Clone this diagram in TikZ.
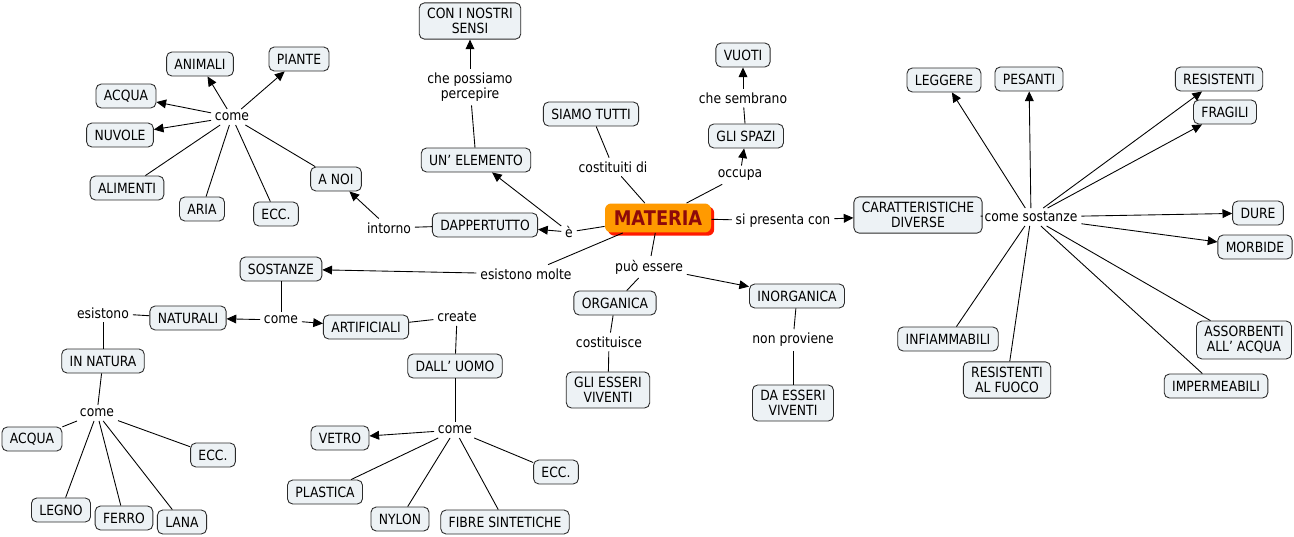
\documentclass[tikz,border=0pt]{standalone}
\usepackage{fontspec}
\setmainfont{DejaVu Sans}[FakeStretch=0.88]
\usetikzlibrary{arrows.meta,shadows}
\definecolor{ink}{HTML}{2B2B2B}
\definecolor{boxfill}{HTML}{EDF2F5}
\definecolor{hubfill}{HTML}{FF9A00}
\definecolor{hubtext}{HTML}{8E0A0A}
\definecolor{hubshade}{HTML}{FF1A00}

\begin{document}
\begin{tikzpicture}[
    x=0.02cm, y=-0.02cm,
    font=\fontsize{8}{8.6}\selectfont,
    line width=0.5pt,
    concept/.style={draw=ink, fill=boxfill, rounded corners=3pt, align=center,
        inner xsep=4.5pt, inner ysep=3pt, minimum height=0.48cm},
    phrase/.style={inner sep=2pt, align=center},
    hub/.style={fill=hubfill, rounded corners=3.5pt, text=hubtext,
        font=\fontsize{11.5}{14}\bfseries, inner xsep=5pt, minimum height=0.58cm,
        drop shadow={fill=hubshade, opacity=1, shadow xshift=1.8pt, shadow yshift=-1.8pt}},
    pointer/.style={-{Triangle[length=5.5pt,width=5pt]}}
]
\useasboundingbox (0,0) rectangle (1294,537);

\node[hub] (materia) at (658,218) {MATERIA};

% Upper middle: what matter is made of and occupies.
\node[concept] (siamo) at (591,114) {SIAMO TUTTI};
\node[concept] (spazi) at (746,136) {GLI SPAZI};
\node[concept] (vuoti) at (743,55) {VUOTI};
\node[phrase] (pCostituiti) at (613,167) {costituiti di};
\node[phrase] (pOccupa) at (740,175) {occupa};
\node[phrase] (pSembrano) at (743,98) {che sembrano};
\draw (siamo) -- (pCostituiti);
\draw (pCostituiti) -- (materia);
\draw (materia) -- (pOccupa);
\draw[pointer] (pOccupa) -- (spazi);
\draw (spazi) -- (pSembrano);
\draw[pointer] (pSembrano) -- (vuoti);

% Left of the centre: an element, everywhere, around us.
\node[concept] (elem) at (476,160) {UN' ELEMENTO};
\node[concept] (sensi) at (470,21) {CON I NOSTRI\\SENSI};
\node[concept] (dapp) at (485,225) {DAPPERTUTTO};
\node[concept] (anoi) at (336,179) {A NOI};
\node[phrase] (pE) at (569,232) {è};
\node[phrase] (pPercepire) at (470,87) {che possiamo\\percepire};
\node[phrase] (pIntorno) at (389,228) {intorno};
\draw (materia) -- (pE);
\draw[pointer] (pE) -- (elem);
\draw[pointer] (pE) -- (dapp);
\draw (elem) -- (pPercepire);
\draw[pointer] (pPercepire) -- (sensi);
\draw (dapp) -- (pIntorno);
\draw[pointer] (pIntorno) -- (anoi);

% Top left: what is around us.
\node[phrase] (pComeA) at (232,117) {come};
\foreach \n/\x/\y/\t in {animali/200/64/ANIMALI, piante/299/59/PIANTE,
    acquaA/126/96/ACQUA, nuvole/120/135/NUVOLE, alimenti/127/188/ALIMENTI,
    aria/202/209/ARIA, eccA/276/214/ECC.}
    \node[concept] (\n) at (\x,\y) {\t};
\draw (anoi) -- (pComeA);
\foreach \n in {animali,piante,acquaA,nuvole}
    \draw[pointer] (pComeA) -- (\n);
\foreach \n in {alimenti,aria,eccA}
    \draw (pComeA) -- (\n);

% Right: properties of substances.
\node[concept] (caratt) at (918,215) {CARATTERISTICHE\\DIVERSE};
\node[phrase] (pPresenta) at (783,221) {si presenta con};
\node[phrase] (pSostanze) at (1031,217) {come sostanze};
\foreach \n/\x/\y/\t in {leggere/944/80/LEGGERE, pesanti/1029/79/PESANTI,
    resist/1219/79/RESISTENTI, fragili/1225/112/FRAGILI, dure/1258/213/DURE,
    morbide/1255/247/MORBIDE, infiam/948/339/INFIAMMABILI,
    resfuoco/1007/380/{RESISTENTI\\AL FUOCO}, imperm/1216/386/IMPERMEABILI,
    assorb/1244/340/{ASSORBENTI\\ALL' ACQUA}}
    \node[concept] (\n) at (\x,\y) {\t};
\draw (materia) -- (pPresenta);
\draw[pointer] (pPresenta) -- (caratt);
\draw (caratt) -- (pSostanze);
\foreach \n in {leggere,pesanti,resist,fragili,dure,morbide}
    \draw[pointer] (pSostanze) -- (\n);
\foreach \n in {infiam,resfuoco,imperm,assorb}
    \draw (pSostanze) -- (\n);

% Below the centre: organic and inorganic.
\node[phrase] (pEssere) at (649,267) {può essere};
\node[concept] (organica) at (615,303) {ORGANICA};
\node[concept] (inorganica) at (797,296) {INORGANICA};
\node[phrase] (pCostituisce) at (609,342) {costituisce};
\node[phrase] (pProviene) at (793,340) {non proviene};
\node[concept] (viventiA) at (608,390) {GLI ESSERI\\VIVENTI};
\node[concept] (viventiB) at (793,403) {DA ESSERI\\VIVENTI};
\draw (materia) -- (pEssere);
\draw (pEssere) -- (organica);
\draw[pointer] (pEssere) -- (inorganica);
\draw (organica) -- (pCostituisce);
\draw (pCostituisce) -- (viventiA);
\draw (inorganica) -- (pProviene);
\draw (pProviene) -- (viventiB);

% Bottom left: natural and artificial substances.
\node[phrase] (pMolte) at (526,274) {esistono molte};
\node[concept] (sostanze) at (281,269) {SOSTANZE};
\node[phrase] (pComeB) at (281,320) {come};
\node[concept] (naturali) at (188,318) {NATURALI};
\node[concept] (artif) at (366,327) {ARTIFICIALI};
\node[phrase] (pEsistono) at (103,313) {esistono};
\node[concept] (innatura) at (103,361) {IN NATURA};
\node[phrase] (pCreate) at (457,317) {create};
\node[concept] (dalluomo) at (455,366) {DALL' UOMO};
\draw (materia) -- (pMolte);
\draw[pointer] (pMolte) -- (sostanze);
\draw (sostanze) -- (pComeB);
\draw[pointer] (pComeB) -- (naturali);
\draw[pointer] (pComeB) -- (artif);
\draw (naturali) -- (pEsistono);
\draw (pEsistono) -- (innatura);
\draw (artif) -- (pCreate);
\draw (pCreate) -- (dalluomo);

\node[phrase] (pComeC) at (97,413) {come};
\foreach \n/\x/\y/\t in {acquaB/32/439/ACQUA, eccB/213/455/ECC.,
    legno/61/510/LEGNO, ferro/124/518/FERRO, lana/182/522/LANA}
    \node[concept] (\n) at (\x,\y) {\t};
\draw (innatura) -- (pComeC);
\foreach \n in {acquaB,eccB,legno,ferro,lana}
    \draw (pComeC) -- (\n);

\node[phrase] (pComeD) at (455,430) {come};
\foreach \n/\x/\y/\t in {vetro/340/438/VETRO, eccC/556/472/ECC.,
    plastica/325/492/PLASTICA, nylon/400/519/NYLON, fibre/505/522/FIBRE SINTETICHE}
    \node[concept] (\n) at (\x,\y) {\t};
\draw (dalluomo) -- (pComeD);
\draw[pointer] (pComeD) -- (vetro);
\foreach \n in {eccC,plastica,nylon,fibre}
    \draw (pComeD) -- (\n);
\end{tikzpicture}
\end{document}
